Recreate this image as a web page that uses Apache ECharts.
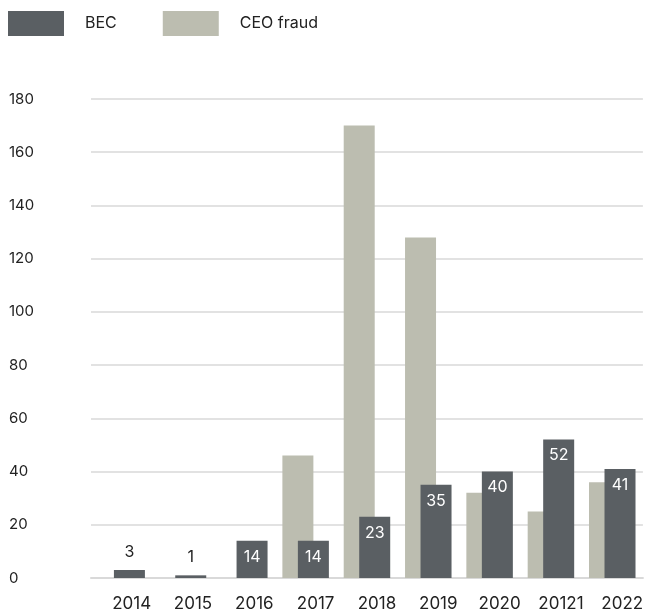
<!DOCTYPE html>
<html>
<head>
<meta charset="utf-8">
<script src="https://cdn.jsdelivr.net/npm/echarts@6/dist/echarts.min.js"></script>
<style>
  html, body { margin: 0; padding: 0; background: #fff; }
  #chart { width: 646px; height: 612px; }
</style>
</head>
<body>
<div id="chart"></div>
<script>
// data
var years = ["2014", "2015", "2016", "2017", "2018", "2019", "2020", "20121", "2022"];
var becValues = [3, 1, 14, 14, 23, 35, 40, 52, 41];
var ceoValues = [0, 0, 0, 46, 170, 128, 32, 25, 36];
var yTicks = { min: 0, max: 180, interval: 20 };

var becColor = "#5a5f63";
var ceoColor = "#bcbdb0";
var textColor = "#222";
var font = "Inter, 'Noto Sans', sans-serif";

var myChart = echarts.init(document.getElementById("chart"));

// small values get their label above the bar, the rest inside in white
var becData = becValues.map(function (v) {
    var small = v < 8;
    return {
        value: v,
        label: {
            position: small ? "top" : "insideTop",
            color: small ? textColor : "#fff",
            distance: small ? 10 : 8
        }
    };
});

var option = {
    animation: false,
    textStyle: { fontFamily: font },
    legend: {
        data: ["BEC", "CEO fraud"],
        left: 3,
        top: 6,
        itemWidth: 56,
        itemHeight: 25,
        itemGap: 46,
        icon: "rect",
        textStyle: { color: textColor, fontSize: 16, fontFamily: font, padding: [0, 0, 0, 16] }
    },
    grid: {
        top: 99,
        bottom: 33,
        left: 91,
        right: 0
    },
    xAxis: {
        type: "category",
        data: years,
        axisLine: { lineStyle: { color: "#d9d9d9", width: 2 } },
        axisTick: { show: false },
        axisLabel: {
            color: textColor,
            fontSize: 17,
            fontFamily: font,
            margin: 17,
            padding: [0, 0, 0, 20]
        }
    },
    yAxis: {
        type: "value",
        min: yTicks.min,
        max: yTicks.max,
        interval: yTicks.interval,
        axisLine: { show: false },
        axisTick: { show: false },
        splitLine: { lineStyle: { color: "#d9d9d9", width: 1.5 } },
        axisLabel: {
            color: textColor,
            fontSize: 15,
            fontFamily: font,
            align: "left",
            margin: 82
        }
    },
    series: [
        {
            name: "CEO fraud",
            type: "bar",
            data: ceoValues,
            barWidth: 31,
            barGap: "-50%",
            itemStyle: { color: ceoColor }
        },
        {
            name: "BEC",
            type: "bar",
            data: becData,
            barWidth: 31,
            itemStyle: { color: becColor },
            label: {
                show: true,
                fontSize: 16,
                fontFamily: font
            }
        }
    ]
};

myChart.setOption(option);
</script>
</body>
</html>
